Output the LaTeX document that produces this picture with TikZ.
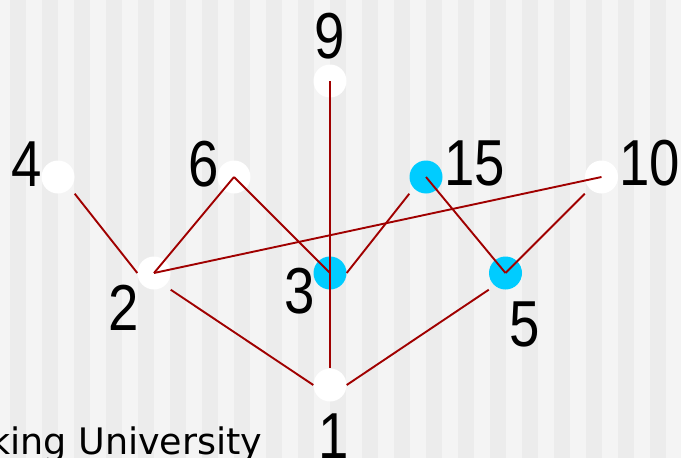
\documentclass[tikz,border=0pt]{standalone}
\usepackage{fontspec}
\usepackage{graphicx}
\setmainfont{Liberation Sans}
\newfontfamily\unifont{DejaVu Sans}
\definecolor{bglight}{HTML}{F4F4F4}
\definecolor{bgdark}{HTML}{ECECEC}
\definecolor{edgered}{HTML}{A00000}
\definecolor{cyanfill}{RGB}{0,204,255}
\tikzset{
  vert/.style={rectangle, inner sep=0pt, minimum size=33pt,
    path picture={\fill[#1] (path picture bounding box.center) circle (16.5pt);}},
  lab/.style={inner sep=0pt, anchor=base, font=\fontsize{65}{65}\selectfont},
  edge/.style={draw=edgered, line width=1.9pt},
}
\newcommand{\nar}[1]{\scalebox{0.84}[1]{#1}}
\begin{document}
\begin{tikzpicture}[x=1pt,y=-1pt]
\useasboundingbox (0,0) rectangle (681,458);
\fill[bglight] (0,0) rectangle (681,458);
\foreach \k in {0,...,21} {
  \fill[bgdark] ({10+32*\k},0) rectangle ({26+32*\k},458);
}
% vertices
\node[vert=white] (n9) at (330,81) {};
\node[vert=white] (n4) at (58,177) {};
\node[vert=white] (n6) at (234,177) {};
\node[vert=cyanfill] (n15) at (426,177) {};
\node[vert=white] (n10) at (601.5,177) {};
\node[vert=white] (n2) at (154,273) {};
\node[vert=cyanfill] (n3) at (330,273) {};
\node[vert=cyanfill] (n5) at (505.5,273) {};
\node[vert=white] (n1) at (330,385) {};
% labels
\node[lab] (l9) at (330,58) {\nar{9}};
\node[lab] (l4) at (27,186.7) {\nar{4}};
\node[lab] (l6) at (204,186.7) {\nar{6}};
\node[lab] (l15) at (474.6,185.5) {\nar{15}};
\node[lab] (l10) at (649.6,185.5) {\nar{10}};
\node[lab] (l2) at (123.5,330) {\nar{2}};
\node[lab] (l3) at (300,313) {\nar{3}};
\node[lab] (l5) at (524.5,346.7) {\nar{5}};
\node[lab] (l1) at (334,458.4) {\nar{1}};
\node[inner sep=0pt, anchor=base west, font=\unifont\fontsize{36.5}{36.5}\selectfont, text=black] (uni) at (-11,454.5) {king University};
% edges
\draw[edge] (n4.south east) -- (n2.west);
\draw[edge] (n6.center) -- (n2.center);
\draw[edge] (n6.center) -- (n3.center);
\draw[edge] (n9.center) -- (n3.center);
\draw[edge] (n3.center) -- (n1.north);
\draw[edge] (n15.south west) -- (n3.east);
\draw[edge] (n15.center) -- (n5.center);
\draw[edge] (n10.south west) -- (n5.center);
\draw[edge] (n10.center) -- (n2.center);
\draw[edge] (n2.south east) -- (n1.west);
\draw[edge] (n5.south west) -- (n1.east);
\end{tikzpicture}
\end{document}
